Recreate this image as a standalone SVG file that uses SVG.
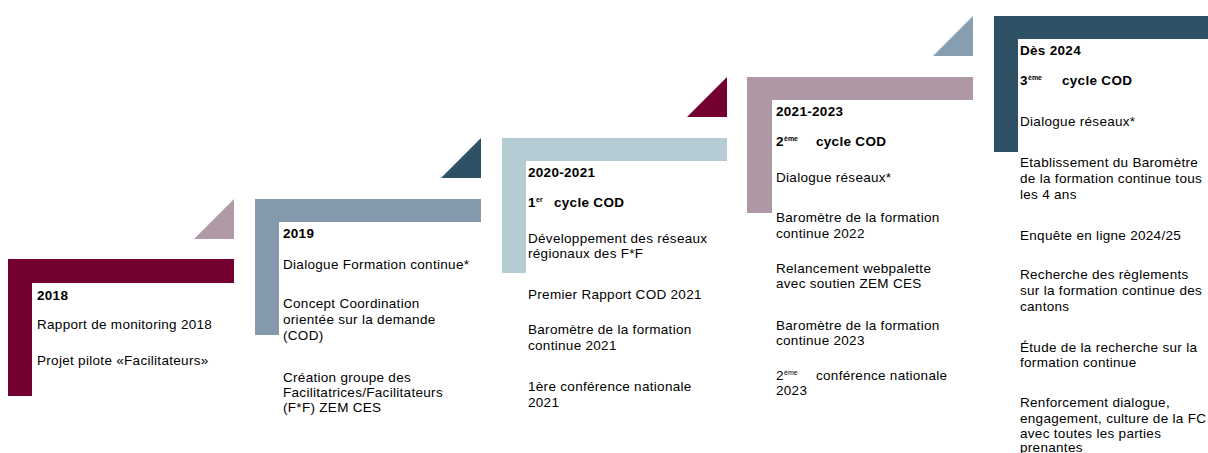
<svg xmlns="http://www.w3.org/2000/svg" width="1208" height="453" viewBox="0 0 1208 453">
<style>
text{font-family:"Liberation Sans",Arial,sans-serif;font-size:13.5px;letter-spacing:0.3px;fill:#000}
.b{font-weight:bold}
.sup{font-size:7px;letter-spacing:0}
</style>
<rect width="1208" height="453" fill="#fff"/>
<g id="step-2018">
<path d="M8 259H234V283H32V396H8Z" fill="#730030"/>
<path d="M194 239H234V199Z" fill="#B09AA6"/>
<text class="b" x="37" y="300">2018</text>
<text x="37" y="329">Rapport de monitoring 2018</text>
<text x="37" y="365">Projet pilote «Facilitateurs»</text>
</g>
<g id="step-2019">
<path d="M255 199H481V222H279V335H255Z" fill="#8599AD"/>
<path d="M441 178H481V138Z" fill="#2E5166"/>
<text class="b" x="283" y="238">2019</text>
<text x="283" y="269">Dialogue Formation continue*</text>
<text x="283" y="308">Concept Coordination</text>
<text x="283" y="324">orientée sur la demande</text>
<text x="283" y="340">(COD)</text>
<text x="283" y="382">Création groupe des</text>
<text x="283" y="397">Facilitatrices/Facilitateurs</text>
<text x="283" y="412">(F*F) ZEM CES</text>
</g>
<g id="step-2020-2021">
<path d="M502 138H727V161H526V273H502Z" fill="#B6CCD4"/>
<path d="M687 117H727V77Z" fill="#730030"/>
<text class="b" x="528" y="177">2020-2021</text>
<text class="b" x="528" y="207">1<tspan class="sup" x="536" dy="-5">er</tspan><tspan x="554" dy="5">cycle COD</tspan></text>
<text x="528" y="243">Développement des réseaux</text>
<text x="528" y="258">régionaux des F*F</text>
<text x="528" y="299">Premier Rapport COD 2021</text>
<text x="528" y="334">Baromètre de la formation</text>
<text x="528" y="350">continue 2021</text>
<text x="528" y="391">1ère conférence nationale</text>
<text x="528" y="407">2021</text>
</g>
<g id="step-2021-2023">
<path d="M747 77H973V100H772V213H747Z" fill="#AF98A5"/>
<path d="M933 56H973V16Z" fill="#879EB1"/>
<text class="b" x="776" y="116">2021-2023</text>
<text class="b" x="776" y="146">2<tspan class="sup" x="784" dy="-5">ème</tspan><tspan x="816" dy="5">cycle COD</tspan></text>
<text x="776" y="182">Dialogue réseaux*</text>
<text x="776" y="222">Baromètre de la formation</text>
<text x="776" y="238">continue 2022</text>
<text x="776" y="273">Relancement webpalette</text>
<text x="776" y="288">avec soutien ZEM CES</text>
<text x="776" y="330">Baromètre de la formation</text>
<text x="776" y="345">continue 2023</text>
<text x="776" y="380">2<tspan class="sup" x="784" dy="-5">ème</tspan><tspan x="816" dy="5">conférence nationale</tspan></text>
<text x="776" y="395">2023</text>
</g>
<g id="step-2024">
<path d="M994 16H1208V39H1018V152H994Z" fill="#2E5166"/>
<text class="b" x="1020" y="55">Dès 2024</text>
<text class="b" x="1020" y="85">3<tspan class="sup" x="1028" dy="-5">ème</tspan><tspan x="1062" dy="5">cycle COD</tspan></text>
<text x="1020" y="126">Dialogue réseaux*</text>
<text x="1020" y="167">Etablissement du Baromètre</text>
<text x="1020" y="183">de la formation continue tous</text>
<text x="1020" y="199">les 4 ans</text>
<text x="1020" y="240">Enquête en ligne 2024/25</text>
<text x="1020" y="279">Recherche des règlements</text>
<text x="1020" y="295">sur la formation continue des</text>
<text x="1020" y="311">cantons</text>
<text x="1020" y="352">Étude de la recherche sur la</text>
<text x="1020" y="367">formation continue</text>
<text x="1020" y="407">Renforcement dialogue,</text>
<text x="1020" y="423">engagement, culture de la FC</text>
<text x="1020" y="438">avec toutes les parties</text>
<text x="1020" y="452">prenantes</text>
</g>
<g id="connectors"/>
</svg>
